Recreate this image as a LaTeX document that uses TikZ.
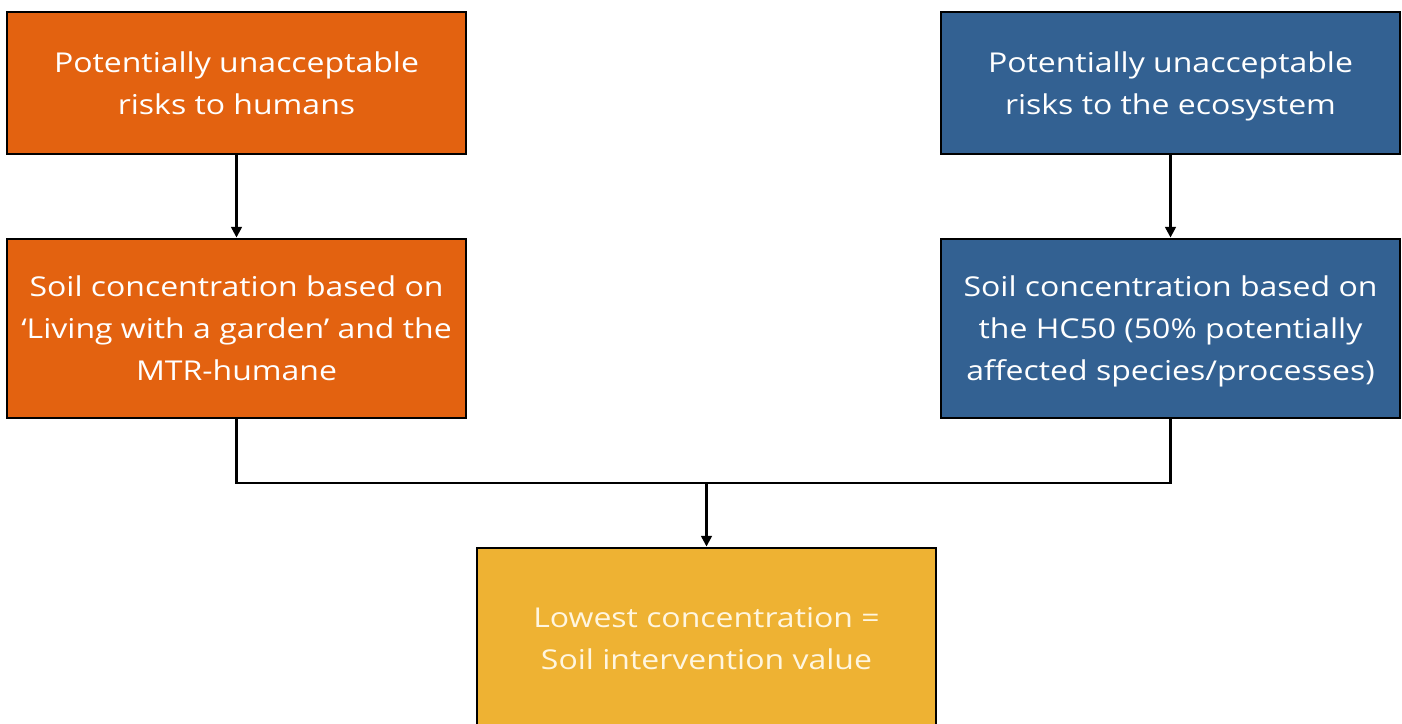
\documentclass[tikz,border=0pt]{standalone}
\usepackage{fontspec}
\setmainfont[FakeStretch=1.17]{Open Sans}
\usetikzlibrary{arrows.meta}
\definecolor{borange}{HTML}{E36210}
\definecolor{bblue}{HTML}{336192}
\definecolor{byellow}{HTML}{EEB233}
\definecolor{ytext}{HTML}{FFF6E0}
\tikzset{
  box/.style={draw=black, line width=2.2pt, rectangle, minimum width=459*0.75pt, text=white, align=center, font=\fontsize{20.5}{31.5}\selectfont, inner sep=0pt, text depth=-1.4pt},
  conn/.style={line width=1.8pt, draw=black},
  arr/.style={conn, -{Triangle[length=8pt,width=8pt]}}
}
\begin{document}
\begin{tikzpicture}[x=0.75pt,y=-0.75pt]
\useasboundingbox (0,0) rectangle (1402,724);
\node[box, fill=borange, minimum height=142*0.75pt] (o1) at (236.5,83) {Potentially unacceptable\\risks to humans};
\node[box, fill=borange, minimum height=179*0.75pt] (o2) at (236.5,328.5) {Soil concentration based on\\‘Living with a garden’ and the\\MTR-humane};
\node[box, fill=bblue, minimum height=142*0.75pt] (b1) at (1170.5,83) {Potentially unacceptable\\risks to the ecosystem};
\node[box, fill=bblue, minimum height=179*0.75pt] (b2) at (1170.5,328.5) {Soil concentration based on\\the HC50 (50\% potentially\\affected species/processes)};
\node[box, fill=byellow, text=ytext, minimum height=180*0.75pt] (y) at (706.5,638) {Lowest concentration =\\Soil intervention value};
\coordinate (j) at (706.5,483);
\draw[arr] (o1) -- (o2);
\draw[arr] (b1) -- (b2);
\draw[conn] (o2.south) -- (o2.south |- j) -- (b2.south |- j) -- (b2.south);
\draw[arr] (j) -- (y.north);
\end{tikzpicture}
\end{document}
